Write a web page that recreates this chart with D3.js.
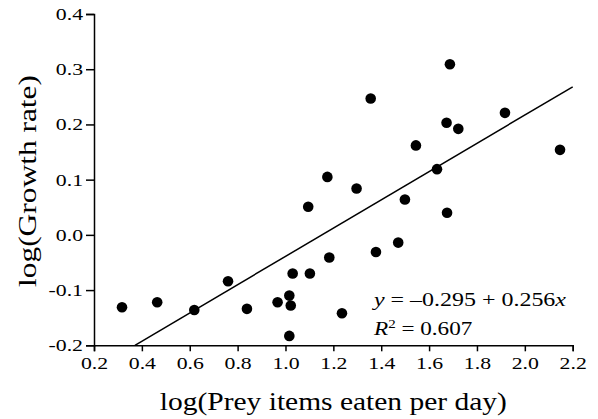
<!DOCTYPE html>
<html>
<head>
<meta charset="utf-8">
<title>growth vs prey</title>
<script src="https://cdn.jsdelivr.net/npm/d3@7"></script>
<style>
  body { margin: 0; background: #fff; }
  svg text { font-family: "Liberation Serif", "Times New Roman", serif; fill: #000; }
</style>
</head>
<body>
<script>
// data
var preyEaten = [0.317, 0.464, 0.619, 0.760, 0.839, 0.967, 1.016, 1.030, 1.022, 1.016,
                 1.102, 1.183, 1.236, 1.378, 1.471, 1.675, 1.687, 1.356, 1.917, 1.673,
                 1.722, 1.545, 2.147, 1.175, 1.297, 1.633, 1.499, 1.095];
var growthRate = [-0.131, -0.122, -0.136, -0.084, -0.134, -0.122, -0.110, -0.070, -0.128, -0.183,
                  -0.070, -0.041, -0.142, -0.031, -0.014, 0.040, 0.309, 0.247, 0.221, 0.203,
                  0.192, 0.162, 0.154, 0.105, 0.084, 0.119, 0.064, 0.051];
var xTicks = [0.2, 0.4, 0.6, 0.8, 1.0, 1.2, 1.4, 1.6, 1.8, 2.0, 2.2];
var yTicks = [-0.2, -0.1, 0.0, 0.1, 0.2, 0.3, 0.4];
var fitA = -0.295, fitB = 0.256;

var W = 598, H = 419;
var svg = d3.select("body").append("svg").attr("width", W).attr("height", H);

var x = d3.scaleLinear().domain([0.2, 2.2]).range([94, 572.7]);
var y = d3.scaleLinear().domain([-0.2, 0.4]).range([345.3, 14]);

// the original's type is a wide Times; stretch glyphs sideways to match
function widen(sel, k) {
  sel.each(function() {
    var n = this.getComputedTextLength();
    d3.select(this).attr("textLength", n * k).attr("lengthAdjust", "spacingAndGlyphs");
  });
}
function styleAxis(g) {
  g.attr("font-family", null).attr("font-size", null);
  g.selectAll("path, line").attr("stroke", "#000").attr("stroke-width", 1.5);
  g.selectAll("text")
    .attr("fill", "#000")
    .style("font-family", "'Liberation Serif', serif")
    .style("font-size", "17px");
}

var gx = svg.append("g")
    .attr("transform", "translate(0," + y(-0.2) + ")")
    .call(d3.axisBottom(x).tickValues(xTicks).tickFormat(d3.format(".1f")).tickSizeOuter(0).tickSize(6).tickPadding(6));
styleAxis(gx);
widen(gx.selectAll("text"), 1.28);

var gy = svg.append("g")
    .attr("transform", "translate(" + x(0.2) + ",0)")
    .call(d3.axisLeft(y).tickValues(yTicks).tickFormat(function(d) { return d3.format(".1f")(d).replace("\u2212", "-"); })
          .tickSizeOuter(0).tickSize(8).tickPadding(3));
styleAxis(gy);
widen(gy.selectAll("text"), 1.28);

// regression line, starting where it meets the bottom of the plot
var x0 = (-0.2 - fitA) / fitB;
var fitPts = [x0, 2.2];
svg.append("path")
    .datum(fitPts)
    .attr("fill", "none")
    .attr("stroke", "#000")
    .attr("stroke-width", 1.5)
    .attr("d", d3.line().x(function(d) { return x(d); }).y(function(d) { return y(fitA + fitB * d); }));

svg.selectAll("circle.pt")
    .data(preyEaten)
    .enter()
    .append("circle")
    .attr("class", "pt")
    .attr("cx", function(d) { return x(d); })
    .attr("cy", function(d, i) { return y(growthRate[i]); })
    .attr("r", 5.3)
    .attr("fill", "#000");

svg.append("text")
    .attr("x", (x(0.2) + x(2.2)) / 2)
    .attr("y", 410)
    .attr("text-anchor", "middle")
    .style("font-size", "24.5px")
    .attr("textLength", 347)
    .attr("lengthAdjust", "spacingAndGlyphs")
    .text("log(Prey items eaten per day)");

svg.append("text")
    .attr("transform", "translate(36,181) rotate(-90)")
    .attr("text-anchor", "middle")
    .style("font-size", "24.5px")
    .attr("textLength", 212)
    .attr("lengthAdjust", "spacingAndGlyphs")
    .text("log(Growth rate)");

var eq = svg.append("text").attr("x", 374).attr("y", 306).style("font-size", "18.5px");
eq.append("tspan").style("font-style", "italic").text("y");
eq.append("tspan").text(" = \u20130.295 + 0.256");
eq.append("tspan").style("font-style", "italic").text("x");
eq.attr("textLength", 192).attr("lengthAdjust", "spacingAndGlyphs");

var r2 = svg.append("text").attr("x", 374).attr("y", 335).style("font-size", "18.5px");
r2.append("tspan").style("font-style", "italic").text("R");
r2.append("tspan").attr("dy", -7).style("font-size", "12px").text("2");
r2.append("tspan").attr("dy", 7).text(" = 0.607");
widen(r2, 1.25);
</script>
</body>
</html>
